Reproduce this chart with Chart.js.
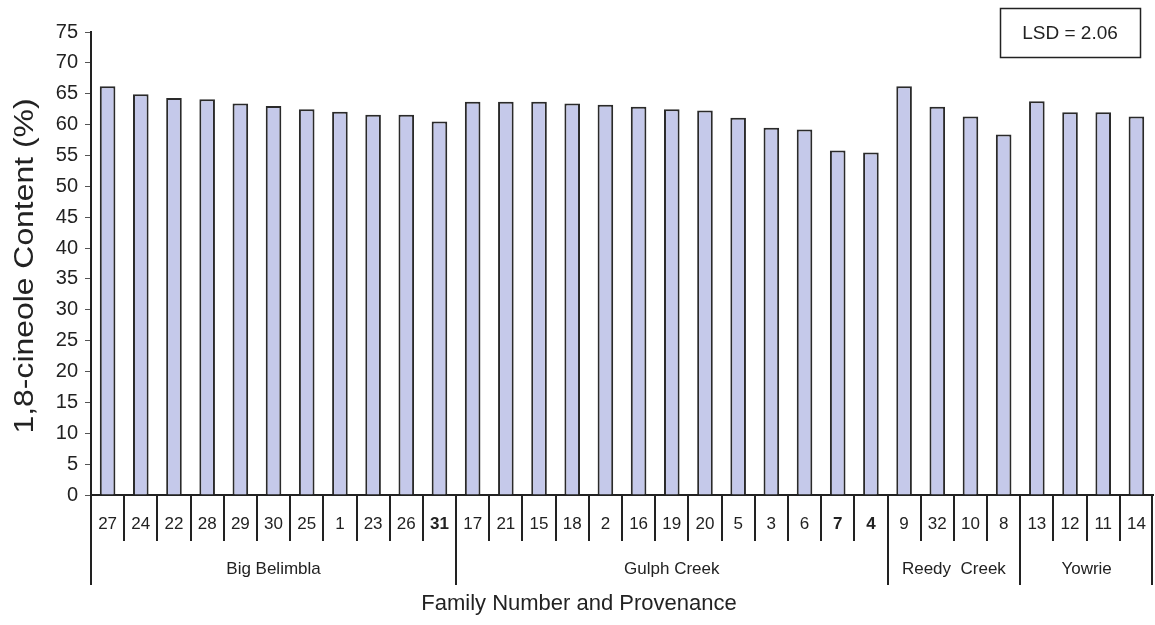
<!DOCTYPE html>
<html>
<head>
<meta charset="utf-8">
<script src="https://cdn.jsdelivr.net/npm/chart.js@4"></script>
<style>
  html, body { margin: 0; padding: 0; background: #ffffff; }
  #wrap { width: 1155px; height: 625px; position: relative; }
</style>
</head>
<body>
<div id="wrap"><canvas id="c" width="1155" height="625"></canvas></div>
<script>
const families = ['27','24','22','28','29','30','25','1','23','26','31',
                  '17','21','15','18','2','16','19','20','5','3','6','7','4',
                  '9','32','10','8',
                  '13','12','11','14'];
const cineole = [66.2,64.9,64.3,64.1,63.4,63.0,62.5,62.1,61.6,61.6,60.5,
                 63.7,63.7,63.7,63.4,63.2,62.9,62.5,62.3,61.1,59.5,59.2,55.8,55.5,
                 66.2,62.9,61.3,58.4,
                 63.8,62.0,62.0,61.3];
const provenances = ['Big Belimbla','Gulph Creek','Reedy  Creek','Yowrie'];
const provenanceSizes = [11, 13, 4, 4];
const boldFamilies = ['31','7','4'];
const yTicks = [0,5,10,15,20,25,30,35,40,45,50,55,60,65,70,75];
const lsdText = 'LSD = 2.06';
const xTitle = 'Family Number and Provenance';
const yTitle = '1,8-cineole Content (%)';

const FONT = "'Liberation Sans', Arial, sans-serif";
const INK = '#222222';

const decorPlugin = {
  id: 'decor',
  afterDraw(chart) {
    const ctx = chart.ctx;
    const xs = chart.scales.x;
    const half = (xs.getPixelForValue(1) - xs.getPixelForValue(0)) / 2;
    const axisY = chart.chartArea.bottom;
    ctx.save();
    ctx.strokeStyle = INK;
    ctx.lineWidth = 2;
    // category separators
    for (let i = 1; i < families.length; i++) {
      const x = Math.round(xs.getPixelForValue(i) - half);
      ctx.beginPath(); ctx.moveTo(x, axisY); ctx.lineTo(x, axisY + 46); ctx.stroke();
    }
    // group separators and labels
    let start = 0;
    const bounds = [start];
    provenanceSizes.forEach(s => { start += s; bounds.push(start); });
    bounds.forEach(b => {
      const x = Math.round(xs.getPixelForValue(b) - half) - (b === families.length ? 1 : 0);
      ctx.beginPath(); ctx.moveTo(x, axisY); ctx.lineTo(x, axisY + 90); ctx.stroke();
    });
    ctx.fillStyle = INK;
    ctx.font = '17px ' + FONT;
    ctx.textAlign = 'center';
    ctx.textBaseline = 'middle';
    provenances.forEach((p, k) => {
      const x0 = xs.getPixelForValue(bounds[k]) - half;
      const x1 = xs.getPixelForValue(bounds[k + 1]) - half;
      ctx.fillText(p, (x0 + x1) / 2, axisY + 74);
    });
    // axis titles
    ctx.font = '22px ' + FONT;
    ctx.fillText(xTitle, 579, 604);
    ctx.save();
    ctx.translate(26, 266);
    ctx.rotate(-Math.PI / 2);
    ctx.font = '27px ' + FONT;
    const w = ctx.measureText(yTitle).width;
    ctx.scale(335 / w, 1);
    ctx.fillText(yTitle, 0, 0);
    ctx.restore();
    // LSD box
    ctx.lineWidth = 1.5;
    ctx.strokeStyle = INK;
    ctx.strokeRect(1000.5, 8.5, 140, 49);
    ctx.font = '19px ' + FONT;
    ctx.fillText(lsdText, 1070, 34);
    ctx.restore();
  }
};

new Chart(document.getElementById('c'), {
  type: 'bar',
  data: {
    labels: families,
    datasets: [{
      data: cineole,
      backgroundColor: '#c5c9ea',
      borderColor: '#2a2a2a',
      borderWidth: { top: 2, left: 2, right: 2, bottom: 0 },
      borderSkipped: 'bottom',
      barPercentage: 0.47,
      categoryPercentage: 1.0
    }]
  },
  options: {
    responsive: false,
    animation: false,
    devicePixelRatio: 1,
    layout: { padding: { top: 32, right: 2, left: 0, bottom: 0 } },
    plugins: { legend: { display: false }, tooltip: { enabled: false } },
    scales: {
      x: {
        offset: true,
        afterFit(s) { s.height = 130; s.paddingLeft = 0; s.paddingRight = 0; },
        grid: { display: false },
        border: { display: true, color: INK, width: 2 },
        ticks: {
          color: INK,
          padding: 11,
          maxRotation: 0,
          autoSkip: false,
          font: (ctx) => ({ family: FONT, size: 17,
            weight: boldFamilies.includes(families[ctx.index]) ? 'bold' : 'normal' })
        }
      },
      y: {
        min: 0,
        max: 75,
        afterFit(s) { s.width = 91; },
        afterBuildTicks(s) { s.ticks = yTicks.map(v => ({ value: v })); },
        grid: { drawOnChartArea: false, drawTicks: true, tickLength: 6, color: '#555555', lineWidth: 1 },
        border: { display: true, color: INK, width: 2 },
        ticks: { color: INK, padding: 7, font: { family: FONT, size: 20 } }
      }
    }
  },
  plugins: [decorPlugin]
});
</script>
</body>
</html>
